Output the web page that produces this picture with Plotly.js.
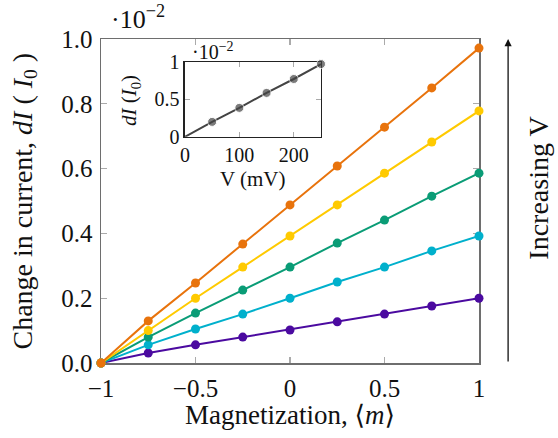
<!DOCTYPE html>
<html>
<head>
<meta charset="utf-8">
<script src="https://cdn.plot.ly/plotly-3.0.1.min.js"></script>
<style>html,body{margin:0;padding:0;background:#fff;}#chart{width:558px;height:438px;}</style>
</head>
<body>
<div id="chart"></div>
<script>
// Main chart data (values in units of 1e-2)
var magnetization = [-1, -0.75, -0.5, -0.25, 0, 0.25, 0.5, 0.75, 1];
var seriesOrange = [0, 0.13, 0.247, 0.367, 0.488, 0.608, 0.728, 0.849, 0.972];
var seriesYellow = [0, 0.10, 0.200, 0.296, 0.392, 0.488, 0.586, 0.682, 0.778];
var seriesGreen  = [0, 0.08, 0.154, 0.225, 0.296, 0.370, 0.441, 0.515, 0.586];
var seriesCyan   = [0, 0.056, 0.105, 0.151, 0.200, 0.250, 0.296, 0.346, 0.392];
var seriesPurple = [0, 0.031, 0.056, 0.080, 0.102, 0.127, 0.151, 0.176, 0.200];
// Inset data
var insetV = [0, 50, 100, 150, 200, 250];
var insetDI = [0, 0.20, 0.387, 0.587, 0.773, 0.973];
var insetMarkers = [false, true, true, true, true, true];

var xTickVals = [-1, -0.5, 0, 0.5, 1];
var xTickText = ["\u22121", "\u22120.5", "0", "0.5", "1"];
var yTickVals = [0, 0.2, 0.4, 0.6, 0.8, 1.0];
var yTickText = ["0.0", "0.2", "0.4", "0.6", "0.8", "1.0"];
var insetXTickVals = [0, 100, 200];
var insetXTickText = ["0", "100", "200"];
var insetYTickVals = [0, 0.5, 1];
var insetYTickText = ["0", "0.5", "1"];

var FONT = "'Liberation Serif', 'DejaVu Serif', serif";
var colors = ["#4B0AA0", "#00B0CC", "#0A9C76", "#FFCA00", "#E8730C"];
var series = [seriesPurple, seriesCyan, seriesGreen, seriesYellow, seriesOrange];

var traces = series.map(function(s, i) {
  return {x: magnetization, y: s, type: 'scatter', mode: 'lines+markers',
    line: {color: colors[i], width: 2}, marker: {color: colors[i], size: 9},
    xaxis: 'x', yaxis: 'y', showlegend: false, hoverinfo: 'none', cliponaxis: false};
});
traces.push({x: insetV, y: insetDI, type: 'scatter', mode: 'lines+markers',
  line: {color: '#444', width: 2},
  marker: {color: '#444', size: insetMarkers.map(function(m){return m ? 9 : 0;})},
  xaxis: 'x2', yaxis: 'y2', showlegend: false, hoverinfo: 'none', cliponaxis: false});

var axisCommon = {showgrid: false, zeroline: false, showline: true, mirror: 'ticks',
  linecolor: '#6e6e6e', linewidth: 1.5, ticks: 'inside', tickcolor: '#aaaaaa',
  tickwidth: 1.2, ticklen: 6, tickmode: 'array', layer: 'below traces'};

var layout = {
  width: 558, height: 438,
  margin: {l: 101, r: 79, t: 39, b: 75},
  paper_bgcolor: '#fff', plot_bgcolor: '#fff',
  font: {family: FONT, size: 25, color: '#111'},
  xaxis: Object.assign({}, axisCommon, {domain: [0, 1], range: [-1, 1],
    tickvals: xTickVals, ticktext: xTickText, anchor: 'y', ticklabelstandoff: 2}),
  yaxis: Object.assign({}, axisCommon, {domain: [0, 1], range: [0, 1],
    tickvals: yTickVals, ticktext: yTickText, anchor: 'x', ticklabelstandoff: 2}),
  xaxis2: Object.assign({}, axisCommon, {domain: [0.222, 0.582], range: [0, 250],
    tickvals: insetXTickVals, ticktext: insetXTickText, anchor: 'y2',
    linecolor: '#222', tickfont: {size: 20}, ticklen: 5}),
  yaxis2: Object.assign({}, axisCommon, {domain: [0.698, 0.929], range: [0, 1],
    tickvals: insetYTickVals, ticktext: insetYTickText, anchor: 'x2',
    linecolor: '#222', tickfont: {size: 20}, ticklen: 5}),
  annotations: [
    {text: 'Change in current, <i>dI</i> ( <i>I</i><sub>0</sub> )', xref: 'paper', yref: 'paper',
     x: -0.205, y: 0.5, textangle: -90, showarrow: false, xanchor: 'center', yanchor: 'middle',
     font: {size: 28}},
    {text: 'Magnetization, \u27e8<i>m</i>\u27e9', xref: 'paper', yref: 'paper',
     x: 0.5, y: -0.16, showarrow: false, xanchor: 'center', yanchor: 'middle', font: {size: 27}},
    {text: '\u00b710<sup>\u22122</sup>', xref: 'paper', yref: 'paper',
     x: 0.02, y: 1.065, showarrow: false, xanchor: 'left', yanchor: 'middle', font: {size: 26}},
    {text: 'Increasing V', xref: 'paper', yref: 'paper',
     x: 1.155, y: 0.54, textangle: -90, showarrow: false, xanchor: 'center', yanchor: 'middle',
     font: {size: 28}},
    {text: '', xref: 'paper', yref: 'paper', x: 1.077, y: 1.0, ax: 0, ay: 324,
     showarrow: true, arrowhead: 2, arrowsize: 1.1, arrowwidth: 1.3, arrowcolor: '#111'},
    {text: '\u00b710<sup>\u22122</sup>', xref: 'paper', yref: 'paper',
     x: 0.235, y: 0.962, showarrow: false, xanchor: 'left', yanchor: 'middle', font: {size: 20}},
    {text: '<i>dI</i> (<i>I</i><sub>0</sub>)', xref: 'paper', yref: 'paper',
     x: 0.077, y: 0.809, textangle: -90, showarrow: false, xanchor: 'center', yanchor: 'middle',
     font: {size: 21}},
    {text: 'V (mV)', xref: 'paper', yref: 'paper',
     x: 0.402, y: 0.568, showarrow: false, xanchor: 'center', yanchor: 'middle', font: {size: 21}}
  ]
};

Plotly.newPlot('chart', traces, layout, {staticPlot: true, displayModeBar: false});
</script>
</body>
</html>
